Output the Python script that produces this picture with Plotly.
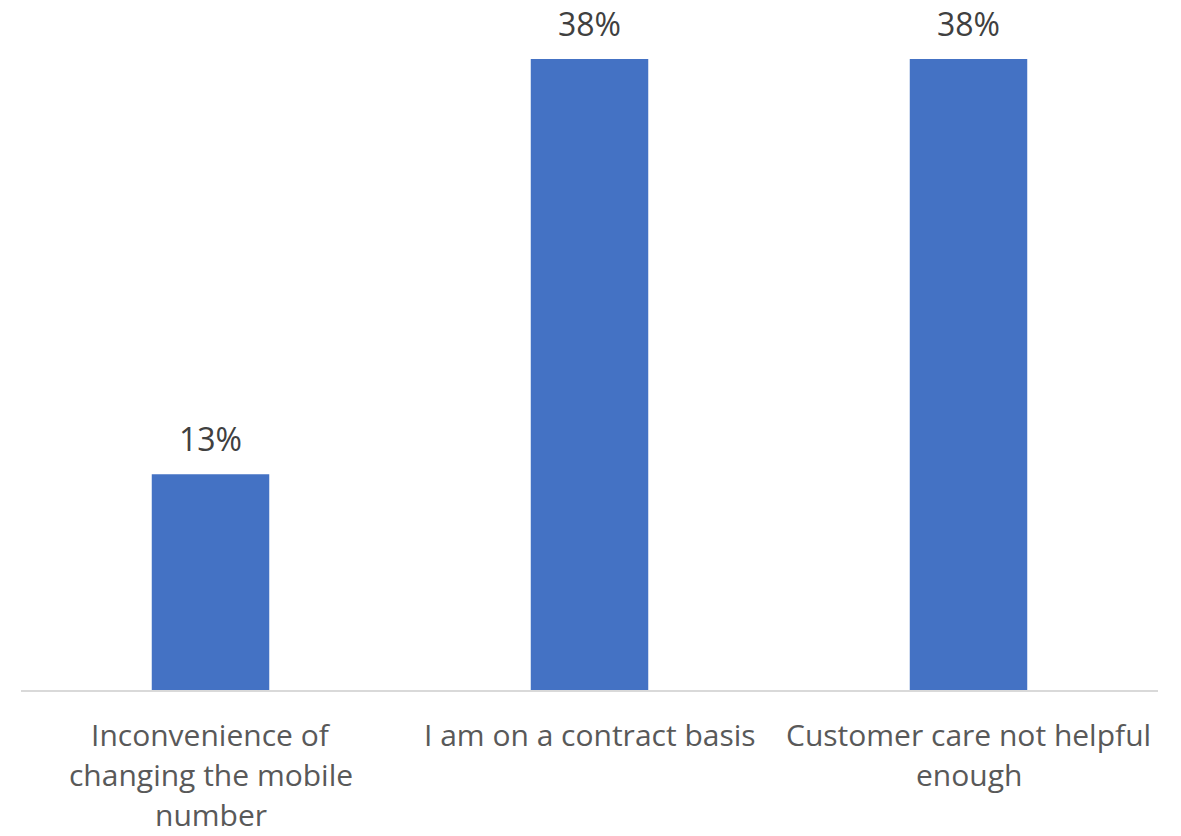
import plotly.graph_objects as go

categories = [
    "Inconvenience of changing the mobile number",
    "I am on a contract basis",
    "Customer care not helpful enough",
]
tick_lines = [
    ["Inconvenience of", "changing the mobile", "number"],
    ["I am on a contract basis"],
    ["Customer care not helpful", "enough"],
]
values = [13, 38, 38]
labels = ["13%", "38%", "38%"]

fig = go.Figure(
    go.Bar(
        x=categories,
        y=values,
        marker=dict(color="#4472C4", line=dict(width=0)),
        cliponaxis=False,
        width=0.31,
        hoverinfo="x+y",
    )
)

# value labels above each bar
for cat, val, lab in zip(categories, values, labels):
    fig.add_annotation(
        x=cat, y=val, text=lab, showarrow=False,
        yanchor="bottom", yshift=12,
        font=dict(size=32, color="#404040", family="Open Sans"),
    )

# category labels, one line at a time for wider line spacing
line_gap = 40
for cat, lines in zip(categories, tick_lines):
    for i, line in enumerate(lines):
        fig.add_annotation(
            x=cat, y=0, text=line, showarrow=False,
            yanchor="middle", yshift=-(44 + i * line_gap),
            font=dict(size=30, color="#595959", family="Open Sans"),
        )

fig.update_layout(
    width=1181,
    height=836,
    margin=dict(l=21, r=23, t=20, b=146),
    paper_bgcolor="white",
    plot_bgcolor="white",
    font=dict(family="Open Sans", size=28, color="#595959"),
    showlegend=False,
)
fig.update_xaxes(
    showline=True,
    linecolor="#D9D9D9",
    linewidth=2,
    showticklabels=False,
    showgrid=False,
)
fig.update_yaxes(
    range=[0, 40.35],
    visible=False,
    showgrid=False,
    zeroline=False,
)

fig.write_html("out.html")
